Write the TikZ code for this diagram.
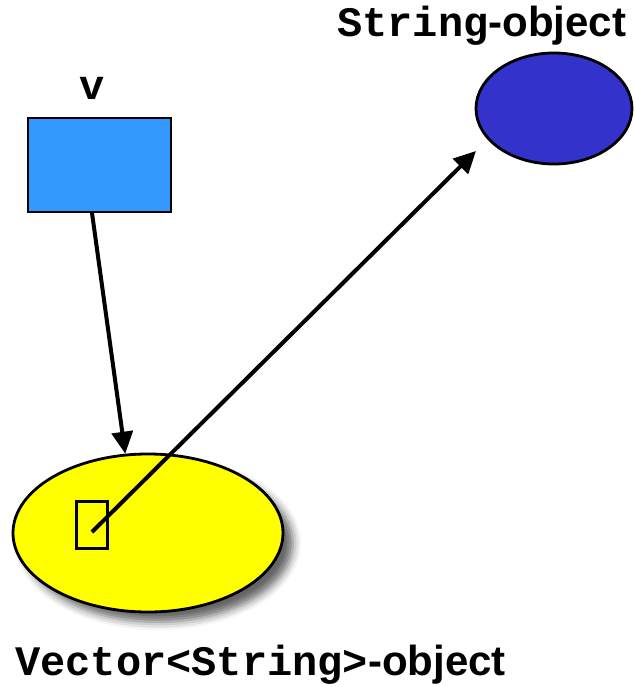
\documentclass[tikz,border=0pt]{standalone}
\usepackage{fontspec}
\setmainfont{Liberation Sans}
\setsansfont{Liberation Sans}
\setmonofont{Liberation Mono}
\usetikzlibrary{shapes.geometric,arrows.meta,shadows.blur}
\definecolor{vblue}{HTML}{3399FF}
\definecolor{sblue}{HTML}{3333CC}
\definecolor{vyellow}{HTML}{FFFF00}
\tikzset{
  obj/.style={ellipse, draw=black, line width=2.8pt, inner sep=0pt},
  box/.style={rectangle, draw=black, line width=2.8pt, inner sep=0pt},
  lbl/.style={inner sep=0pt, anchor=base west, font=\fontsize{42}{48}\selectfont},
  refarrow/.style={draw=black, line width=4pt, -{Triangle[length=22pt,width=21pt]}}
}
\newcommand{\code}[1]{{\ttfamily\bfseries #1}}
\newcommand{\word}[1]{{\sffamily\bfseries #1}}

\begin{document}
\begin{tikzpicture}[x=1pt,y=-1pt]
			%%%%% START %%%%%
			\useasboundingbox (0,0) rectangle (633,687);

			\node[box, fill=vblue, minimum width=143pt, minimum height=94pt] (vbox) at (99.5,165) {};
			\node[lbl, anchor=base] (vname) at (92,100) {\code{v}};

			\node[obj, fill=sblue, minimum width=156pt, minimum height=111pt] (strobj) at (554,108.5) {};
			\node[lbl] (strname) at (337,37) {\code{String}\word{-object}};

			\node[obj, fill=vyellow, minimum width=270pt, minimum height=158pt,
			      blur shadow={shadow xshift=10pt, shadow yshift=-10pt, shadow blur radius=8pt, shadow opacity=60}] (vecobj) at (148,533) {};
			\node[lbl] (vecname) at (15,675) {\code{Vector<String>}\word{-object}};

			\node[box, line width=2.4pt, minimum width=31pt, minimum height=47pt] (slot) at (92,525) {};

			\coordinate (vtail) at (92,213);
			\path[refarrow] (vtail) -- (vecobj.106);

			\coordinate (slotptr) at (92,532);
			\coordinate (strtip) at (476,151);
			\path[refarrow] (slotptr) -- (strtip);
			%%%%% END %%%%%
\end{tikzpicture}
\end{document}
